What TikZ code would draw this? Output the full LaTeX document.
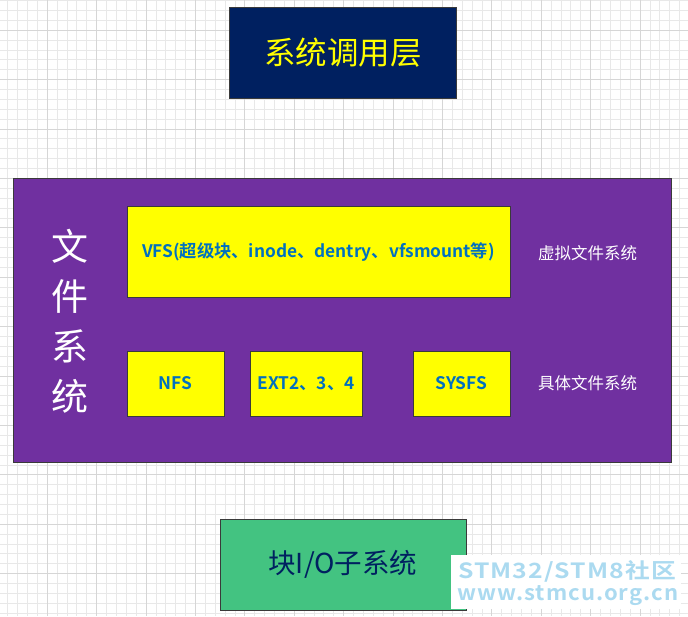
\documentclass[tikz,border=0pt]{standalone}
\usepackage{fontspec}
\setmainfont{Noto Sans CJK SC}
\newfontfamily\cjkb{Noto Sans CJK SC Bold}
\newfontfamily\wmfonta[FakeStretch=1.18,LetterSpace=5]{Noto Sans CJK SC Bold}
\newfontfamily\wmfontb[FakeStretch=1.05,LetterSpace=5]{Noto Sans CJK SC Bold}
\definecolor{navy}{HTML}{002060}
\definecolor{fspurple}{HTML}{7030A0}
\definecolor{fsyellow}{HTML}{FFFF00}
\definecolor{fsblue}{HTML}{0070C0}
\definecolor{iogreen}{HTML}{43C381}
\definecolor{gridminor}{HTML}{E8E8E8}
\definecolor{gridmajor}{HTML}{D6D6D6}
\definecolor{wmblue}{HTML}{ABDAF0}
\definecolor{edge}{HTML}{3A3A3A}
\tikzset{
  blk/.style={draw=edge, line width=0.9pt, inner sep=0pt, anchor=north west},
  ybox/.style={blk, fill=fsyellow},
  ytext/.style={text=fsblue, font=\cjkb\fontsize{17.3}{19}\selectfont},
  sidelabel/.style={text=white, font=\fontsize{16.5}{18}\selectfont},
}
\begin{document}
\begin{tikzpicture}[x=1pt,y=-1pt]
\useasboundingbox (0,0) rectangle (688,616);
\fill[white] (0,0) rectangle (688,616);
% grid
\foreach \i in {0,...,69} {
  \draw[gridminor, line width=1pt] ({7.8+\i*9.88},0) -- ++(0,616);
}
\foreach \i in {0,...,62} {
  \draw[gridminor, line width=1pt] (0,{0.66+\i*9.88}) -- ++(688,0);
}
\foreach \i in {0,...,13} {
  \draw[gridmajor, line width=1.1pt] ({47.3+\i*49.4},0) -- ++(0,616);
}
\foreach \i in {0,...,12} {
  \draw[gridmajor, line width=1.1pt] (0,{30.3+\i*49.4}) -- ++(688,0);
}
% top box
\node[blk, fill=navy, minimum width=227pt, minimum height=91pt] (sys) at (229,7) {};
\node[text=fsyellow, font=\fontsize{31.5}{34}\selectfont] (systxt) at (sys.center) {系统调用层};
% file system frame
\node[blk, fill=fspurple, minimum width=658pt, minimum height=284pt] (fs) at (13,178) {};
\node[text=white, font=\fontsize{37}{50}\selectfont, align=center] (fstxt) at (70,321) {文\\件\\系\\统};
% VFS
\node[ybox, minimum width=383pt, minimum height=91pt] (vfs) at (126.5,206) {};
\node[ytext] (vfstxt) at (vfs.center) {VFS(超级块、inode、dentry、vfsmount等)};
\node[ybox, minimum width=97pt, minimum height=65pt] (nfs) at (126.5,350.5) {};
\node[ytext] (nfstxt) at (nfs.center) {NFS};
\node[ybox, minimum width=112pt, minimum height=65pt] (ext) at (249.5,350.5) {};
\node[ytext] (exttxt) at (ext.center) {EXT2、3、4};
\node[ybox, minimum width=97pt, minimum height=65pt] (sysfs) at (412.5,350.5) {};
\node[ytext] (sysfstxt) at (sysfs.center) {SYSFS};
\node[sidelabel] (vlabel) at (587.5,253) {虚拟文件系统};
\node[sidelabel] (clabel) at (587.5,383) {具体文件系统};
% block io
\node[blk, fill=iogreen, minimum width=246pt, minimum height=91pt] (bio) at (219.5,518.5) {};
\node[text=navy, font=\fontsize{27.5}{30}\selectfont] (biotxt) at (bio.center) {块I/O子系统};
% watermark
\fill[white] (451,555) rectangle (681,609);
\node[text=wmblue, font=\wmfonta\fontsize{21}{23}\selectfont, inner sep=0pt, anchor=base] (wm1) at (567,578) {STM32/STM8社区};
\node[text=wmblue, font=\wmfontb\fontsize{21}{23}\selectfont, inner sep=0pt, anchor=base] (wm2) at (568,600) {www.stmcu.org.cn};
\end{tikzpicture}
\end{document}
